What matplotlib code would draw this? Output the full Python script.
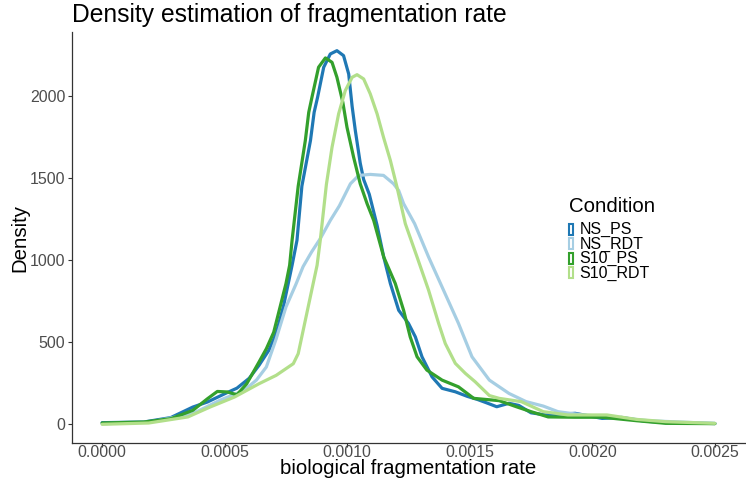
import matplotlib
matplotlib.use("Agg")
import matplotlib.pyplot as plt
from matplotlib.patches import Rectangle

plt.rcParams['font.family'] = ['Liberation Sans', 'DejaVu Sans']

conditions = ["NS_PS", "NS_RDT", "S10_PS", "S10_RDT"]
colors = ["#1F78B4", "#A6CEE3", "#33A02C", "#B2DF8A"]

ns_ps_x = [0, 0.00017, 0.00028, 0.00037, 0.00043, 0.00051, 0.00055, 0.0006, 0.00064,
           0.00068, 0.00071, 0.00074, 0.000775, 0.000795, 0.000815, 0.00085, 0.000865,
           0.000879, 0.000904, 0.000931, 0.000958, 0.000985, 0.001006, 0.00102, 0.001033,
           0.001053, 0.001067, 0.00109, 0.001122, 0.001149, 0.001176, 0.00121, 0.00125,
           0.001278, 0.001305, 0.001346, 0.001387, 0.001441, 0.00149, 0.00153, 0.00157,
           0.00161, 0.00166, 0.0017, 0.00175, 0.00181, 0.00187, 0.00193, 0.00204, 0.00212,
           0.00221, 0.0023, 0.0025]
ns_ps_y = [10, 14, 41, 105, 136, 193, 220, 280, 359, 450, 552, 720, 968, 1120, 1450, 1727,
           1899, 1990, 2173, 2254, 2274, 2244, 2132, 1935, 1788, 1590, 1490, 1400, 1210,
           1018, 857, 694, 614, 532, 411, 289, 219, 198, 170, 152, 130, 107, 128, 115, 70,
           57, 62, 67, 36, 42, 20, 10, 5]

ns_rdt_x = [0, 0.0002, 0.00037, 0.00048, 0.00058, 0.00063, 0.00067, 0.00071, 0.00075,
            0.00079, 0.00082, 0.000855, 0.00089, 0.000931, 0.000968, 0.001013, 0.001047,
            0.001094, 0.001148, 0.001189, 0.00121, 0.00123, 0.001275, 0.001332, 0.001393,
            0.001454, 0.001509, 0.00158, 0.00166, 0.00173, 0.0018, 0.00186, 0.00196,
            0.00209, 0.00223, 0.0025]
ns_rdt_y = [3, 15, 65, 146, 207, 270, 349, 520, 714, 850, 960, 1050, 1130, 1241, 1330,
            1464, 1515, 1521, 1515, 1464, 1423, 1343, 1221, 1018, 816, 614, 411, 269, 188,
            138, 111, 77, 57, 43, 22, 5]

s10_ps_x = [0, 0.00017, 0.00028, 0.00037, 0.00043, 0.00047, 0.00051, 0.00055, 0.00059,
            0.00064, 0.00067, 0.0007, 0.00075, 0.000765, 0.000775, 0.0008, 0.000829,
            0.000843, 0.000856, 0.000883, 0.000911, 0.000938, 0.000958, 0.000982, 0.000999,
            0.001026, 0.001053, 0.001081, 0.001108, 0.001149, 0.001196, 0.00123, 0.001257,
            0.001285, 0.001325, 0.001387, 0.001454, 0.001516, 0.00162, 0.00169, 0.00175,
            0.00182, 0.00193, 0.00204, 0.00218, 0.0023, 0.0025]
s10_ps_y = [8, 14, 34, 85, 156, 200, 197, 180, 247, 379, 460, 560, 856, 968, 1120, 1450,
            1727, 1899, 1990, 2173, 2230, 2203, 2112, 1960, 1808, 1626, 1464, 1343, 1241,
            1018, 857, 694, 532, 411, 330, 269, 228, 158, 144, 107, 77, 45, 43, 43, 22, 6, 4]

s10_rdt_x = [0, 0.00019, 0.00035, 0.00044, 0.00054, 0.00064, 0.00071, 0.00078, 0.0008,
             0.00082, 0.00085, 0.000877, 0.00089, 0.000915, 0.000938, 0.000965, 0.000992,
             0.00102, 0.00104, 0.001067, 0.001094, 0.001122, 0.001148, 0.001176, 0.001203,
             0.001237, 0.001285, 0.001332, 0.001373, 0.0014, 0.001441, 0.001482, 0.001522,
             0.00158, 0.00162, 0.00171, 0.0018, 0.0019, 0.00206, 0.00218, 0.0023, 0.0025]
s10_rdt_y = [0, 8, 45, 105, 166, 247, 298, 369, 430, 570, 780, 968, 1120, 1460, 1686, 1890,
             2031, 2112, 2128, 2102, 2011, 1889, 1747, 1606, 1444, 1221, 1018, 816, 614,
             492, 371, 310, 259, 175, 158, 138, 77, 57, 57, 30, 16, 6]

x_ticks = [0.0, 0.0005, 0.0010, 0.0015, 0.0020, 0.0025]
x_tick_labels = ["0.0000", "0.0005", "0.0010", "0.0015", "0.0020", "0.0025"]
y_ticks = [0, 500, 1000, 1500, 2000]
y_tick_labels = ["0", "500", "1000", "1500", "2000"]

series = [(ns_ps_x, ns_ps_y), (ns_rdt_x, ns_rdt_y), (s10_ps_x, s10_ps_y), (s10_rdt_x, s10_rdt_y)]

W, H = 746, 483
fig = plt.figure(figsize=(W / 100, H / 100), dpi=100)
left, right, top, bottom = 71.5, 745.5, 32, 443
ax = fig.add_axes([left / W, (H - bottom) / H, (right - left) / W, (bottom - top) / H])

for (xs, ys), c in zip(series, colors):
    ax.plot(xs, ys, color=c, lw=2.3, solid_joinstyle='round', solid_capstyle='round')

ymax = max(max(s[1]) for s in series)
ax.set_xlim(-0.000125, 0.002625)
ax.set_ylim(-0.05 * ymax, 1.05 * ymax)
ax.set_xticks(x_ticks)
ax.set_xticklabels(x_tick_labels)
ax.set_yticks(y_ticks)
ax.set_yticklabels(y_tick_labels)

for s in ['top', 'right']:
    ax.spines[s].set_visible(False)
for s in ['left', 'bottom']:
    ax.spines[s].set_color('#333333')
    ax.spines[s].set_linewidth(0.9)
ax.tick_params(axis='both', colors='#333333', length=2.75, width=0.8, labelsize=11.5,
               labelcolor='#4D4D4D')
ax.tick_params(axis='x', pad=-1.6)
ax.tick_params(axis='y', pad=1.6)

ax.set_xlabel("biological fragmentation rate", fontsize=14.7, color='black', va='baseline')
ax.xaxis.set_label_coords(0.5, (bottom - 473.5) / (bottom - top))
ax.set_ylabel("Density", fontsize=14.7, color='black', va='center')
ax.yaxis.set_label_coords((20 - left) / (right - left), 0.5)
fig.text(left / W + 0.001, 1 - 15 / H, "Density estimation of fragmentation rate",
         fontsize=17.7, ha='left', va='center', color='black')


def fx(px):
    return px / W


def fy(py):
    return 1 - py / H


fig.text(fx(568.5), fy(212.3), "Condition", fontsize=14.7, ha='left', va='baseline')
row_base = [234.3, 248.8, 263.3, 277.8]
for name, c, yb in zip(conditions, colors, row_base):
    fig.patches.append(Rectangle((fx(569.3), fy(yb + 0.5)), 3.4 / W, 11 / H,
                                 transform=fig.transFigure, facecolor='white',
                                 edgecolor=c, lw=1.5))
    fig.text(fx(579.5), fy(yb), name, fontsize=11.5, ha='left', va='baseline')

fig.savefig("out.png", dpi=100)
